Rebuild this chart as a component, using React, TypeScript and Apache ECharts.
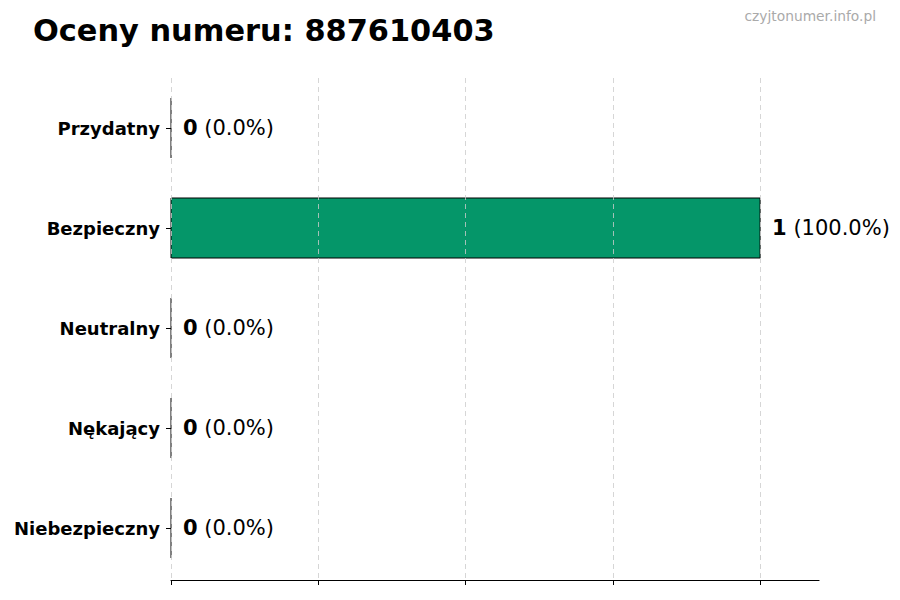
import React, { useEffect, useRef } from "react";
import * as echarts from "echarts";

const categories = ["Przydatny", "Bezpieczny", "Neutralny", "Nękający", "Niebezpieczny"];
const counts = [0, 1, 0, 0, 0];
const gridTicks = [0, 0.25, 0.5, 0.75, 1.0];
const titleText = "Oceny numeru: 887610403";
const watermark = "czyjtonumer.info.pl";
const barColor = "#059669";
const FONT = "DejaVu Sans";

export default function App() {
  const ref = useRef<HTMLDivElement>(null);
  useEffect(() => {
    if (!ref.current) return;
    const chart = echarts.init(ref.current, null, { renderer: "svg" });
    const total = counts.reduce((a, b) => a + b, 0);
    const data = counts.map((v, i) => [v, i]);
    chart.setOption({
      animation: false,
      backgroundColor: "#fff",
      title: {
        text: titleText,
        left: 33,
        top: 15,
        padding: 0,
        textStyle: { fontFamily: FONT, fontSize: 30.4, fontWeight: "bold", color: "#000" },
      },
      graphic: [
        {
          type: "text",
          right: 24,
          top: 9,
          style: { text: watermark, fontFamily: FONT, fontSize: 13.8, fill: "#aaa" },
        },
      ],
      grid: { left: 171, right: 81, top: 78, bottom: 22, containLabel: false },
      xAxis: {
        type: "value",
        min: 0,
        max: 1.1,
        interval: 0.25,
        offset: 2,
        z: 5,
        axisLine: { show: true, lineStyle: { color: "#000", width: 1.2 } },
        axisTick: { show: true, length: 5, customValues: gridTicks, lineStyle: { color: "#000" } },
        axisLabel: { show: false },
        splitLine: { show: false },
      },
      yAxis: {
        type: "category",
        data: categories,
        inverse: true,
        axisLine: { show: false },
        axisTick: { show: true, alignWithLabel: true, length: 5, lineStyle: { color: "#000" } },
        axisLabel: {
          margin: 11,
          fontFamily: FONT,
          fontSize: 18,
          fontWeight: "bold",
          color: "#000",
        },
        splitLine: { show: false },
      },
      series: [
        {
          type: "custom",
          encode: { x: 0, y: 1 },
          data,
          z: 2,
          renderItem: (params: any, api: any) => {
            const v = api.value(0);
            const ci = api.value(1);
            const end = api.coord([v, ci]);
            const start = api.coord([0, ci]);
            const band = api.size([0, 1])[1];
            const h = band * 0.6;
            const pct = total ? ((v / total) * 100).toFixed(1) : "0.0";
            const children: any[] = [];
            if (end[0] - start[0] > 0.5) {
              children.push({
                type: "rect",
                shape: { x: start[0], y: end[1] - h / 2, width: end[0] - start[0], height: h },
                style: { fill: barColor, stroke: "#000", lineWidth: 1 },
              });
            } else {
              children.push({
                type: "line",
                shape: { x1: start[0], y1: end[1] - h / 2, x2: start[0], y2: end[1] + h / 2 },
                style: { stroke: "#000", lineWidth: 1 },
              });
            }
            children.push({
              type: "text",
              x: end[0] + 12,
              y: end[1],
              style: {
                text: `{b|${v}} (${pct}%)`,
                fontFamily: FONT,
                fontSize: 21,
                fill: "#000",
                verticalAlign: "middle",
                align: "left",
                rich: {
                  b: { fontFamily: FONT, fontSize: 21, fontWeight: "bold", fill: "#000" },
                },
              },
            });
            return { type: "group", children };
          },
          markLine: {
            silent: true,
            symbol: "none",
            label: { show: false },
            z: 4,
            lineStyle: { color: "#cccccc", type: [5, 4], width: 0.8 },
            data: gridTicks.map((t) => ({ xAxis: t })),
          },
        },
      ],
    });
    return () => chart.dispose();
  }, []);
  return (
    <div
      ref={ref}
      style={{ position: "absolute", left: 0, top: 0, width: 900, height: 600 }}
    />
  );
}
